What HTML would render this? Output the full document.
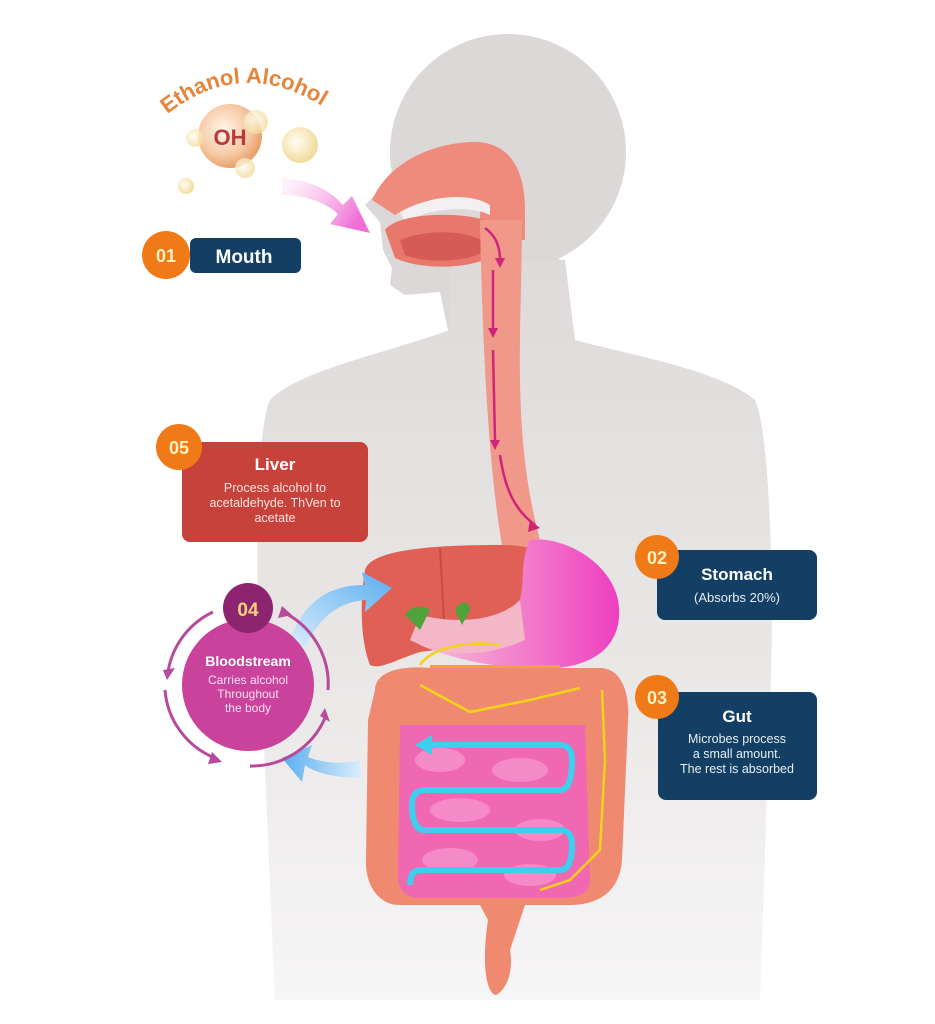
<!DOCTYPE html>
<html><head><meta charset="utf-8"><style>
html,body{margin:0;padding:0;background:#fff;}
svg{display:block;font-family:"Liberation Sans",sans-serif;}
</style></head><body>
<svg width="935" height="1024" viewBox="0 0 935 1024" xmlns="http://www.w3.org/2000/svg">
<defs>
<linearGradient id="body" x1="0" y1="0" x2="0" y2="1">
<stop offset="0" stop-color="#dedada"/><stop offset="0.6" stop-color="#ebe8e8"/><stop offset="1" stop-color="#f7f6f6"/>
</linearGradient>
<linearGradient id="pinkArr" x1="0" y1="0" x2="1" y2="0.4">
<stop offset="0" stop-color="#fbe0f3" stop-opacity="0.3"/><stop offset="1" stop-color="#ef6fd6"/>
</linearGradient>
<linearGradient id="blueArr1" x1="0" y1="1" x2="1" y2="0">
<stop offset="0" stop-color="#d8ecfb"/><stop offset="1" stop-color="#5aaef0"/>
</linearGradient>
<linearGradient id="blueArr2" x1="1" y1="0" x2="0" y2="0">
<stop offset="0" stop-color="#d8ecfb"/><stop offset="1" stop-color="#5aaef0"/>
</linearGradient>
<linearGradient id="stom" x1="0" y1="0" x2="1" y2="0">
<stop offset="0" stop-color="#f7c0d8"/><stop offset="1" stop-color="#ee3fc0"/>
</linearGradient>
<radialGradient id="bub" cx="0.4" cy="0.4" r="0.6">
<stop offset="0" stop-color="#fff6e8"/><stop offset="0.7" stop-color="#f6c6a0"/><stop offset="1" stop-color="#e9a26e"/>
</radialGradient>
<radialGradient id="bub2" cx="0.4" cy="0.4" r="0.6">
<stop offset="0" stop-color="#fffdf4"/><stop offset="1" stop-color="#f2dc9c"/>
</radialGradient>
<path id="arcT" d="M158,122 Q245,45 342,120"/>
</defs>

<!-- body silhouette -->
<circle cx="508" cy="152" r="118" fill="#dcd8d8"/>
<path d="M420,110 L395,150 L390,180 L365,205 L380,222 L383,250 L392,268 L390,285 L405,295 L440,292 L450,340 L560,345 L560,260 Z" fill="#dcd8d8"/>
<path d="M450,330 C380,355 300,370 270,400 C255,430 255,600 262,700 L275,1000 L760,1000 L770,700 C775,600 770,430 755,400 C720,370 630,355 575,340 L565,260 L450,260 Z" fill="url(#body)"/>

<!-- face/mouth organs -->
<path d="M372,200 C385,170 420,145 470,142 C510,140 525,170 525,210 L525,240 L480,240 L480,205 C460,195 420,200 395,215 Z" fill="#ee8b7c"/>
<path d="M400,212 C430,195 470,192 490,205 L490,215 C470,205 430,208 405,222 Z" fill="#f2f0f0"/>
<path d="M385,230 C395,215 450,210 485,220 L495,255 C470,270 420,270 395,258 Z" fill="#e9786c"/>
<path d="M400,240 C430,228 470,230 490,245 C480,262 430,265 405,255 Z" fill="#d65a55"/>
<!-- esophagus -->
<path d="M480,220 L522,220 C522,320 512,420 535,520 L545,560 L505,560 C488,480 482,330 480,220 Z" fill="#f0988a"/>
<g stroke="#d0247a" stroke-width="2.5" fill="none">
<path d="M485,228 C495,235 500,245 500,260"/><path d="M493,270 L493,330"/><path d="M493,350 L495,440"/><path d="M500,455 C505,490 515,510 535,525"/>
</g>
<g fill="#d0247a"><path d="M495,258 L505,258 L500,268Z"/><path d="M488,328 L498,328 L493,338Z"/><path d="M490,440 L500,440 L495,450Z"/><path d="M530,520 L540,528 L528,532Z"/></g>

<!-- liver -->
<path d="M365,570 C370,550 430,545 500,545 C545,545 560,560 555,590 C545,625 480,645 420,652 C395,660 380,670 370,665 C360,640 360,600 365,570Z" fill="#e06055"/>
<path d="M440,548 L445,640" stroke="#c94a44" stroke-width="2"/>
<!-- stomach -->
<path d="M530,540 C560,535 610,560 618,600 C625,640 600,665 555,668 C500,670 455,660 420,645 L425,620 C470,630 510,625 520,600 C525,580 520,560 530,540Z" fill="url(#stom)"/>
<path d="M420,615 C460,625 500,620 520,600 L525,640 C480,660 440,655 410,640Z" fill="#f3b7c8"/>
<path d="M405,615 C410,605 425,605 430,610 L420,630Z" fill="#4fa33a"/>
<path d="M455,610 C460,600 470,600 470,610 L462,625Z" fill="#4fa33a"/>
<path d="M430,665 L560,665 L560,685 L430,685Z" fill="#f3a23a"/>

<!-- large intestine -->
<path d="M375,690 C375,672 400,665 430,668 L600,668 C620,668 630,690 628,720 L622,860 C620,890 600,905 570,905 L525,905 L510,950 C515,980 500,995 495,995 C485,990 482,960 488,920 L480,905 L400,905 C375,905 365,880 366,860 L368,720 Z" fill="#ef8a70"/>
<!-- small intestine -->
<path d="M400,725 L585,725 L590,880 C590,895 575,898 560,898 L420,898 C405,898 398,890 398,875 Z" fill="#f067b2"/>
<g fill="#f58ac8"><ellipse cx="440" cy="760" rx="25" ry="12"/><ellipse cx="520" cy="770" rx="28" ry="12"/><ellipse cx="460" cy="810" rx="30" ry="12"/><ellipse cx="540" cy="830" rx="25" ry="11"/><ellipse cx="450" cy="860" rx="28" ry="12"/><ellipse cx="530" cy="875" rx="26" ry="11"/></g>
<!-- cyan snake -->
<path d="M425,745 L560,745 Q572,745 572,760 Q572,790 560,790 L425,790 Q412,790 412,805 Q412,830 425,830 L560,830 Q572,830 572,845 Q572,870 560,870 L420,870 Q410,870 410,885" stroke="#3dcfee" stroke-width="6" fill="none"/>
<path d="M415,745 L432,735 L432,755Z" fill="#3dcfee"/>
<!-- yellow arrows -->
<g stroke="#f5d21a" stroke-width="2.5" fill="none">
<path d="M420,685 L470,712 L530,700 L580,688"/><path d="M602,690 L605,760 L600,850 L570,880 L540,890"/>
<path d="M420,665 C430,650 460,640 500,645"/>
</g>

<!-- ethanol text & bubbles -->
<text font-size="22" font-weight="bold" fill="#e8833a"><textPath href="#arcT" startOffset="12">Ethanol Alcohol</textPath></text>
<circle cx="230" cy="136" r="32" fill="url(#bub)"/>
<text x="230" y="145" font-size="22" font-weight="bold" fill="#b83a3a" text-anchor="middle">OH</text>
<circle cx="300" cy="145" r="18" fill="url(#bub2)"/>
<circle cx="256" cy="122" r="12" fill="url(#bub2)" opacity="0.8"/>
<circle cx="245" cy="168" r="10" fill="url(#bub2)" opacity="0.8"/>
<circle cx="186" cy="186" r="8" fill="url(#bub2)"/>
<circle cx="195" cy="138" r="9" fill="url(#bub2)" opacity="0.8"/>
<!-- pink arrow -->
<path d="M282,178 C310,180 330,190 343,205 L352,196 L370,233 L330,224 L338,214 C325,202 305,195 282,195Z" fill="url(#pinkArr)"/>

<!-- 01 Mouth -->
<rect x="190" y="238" width="111" height="35" rx="6" fill="#123f63"/>
<text x="244" y="263" font-size="19" font-weight="bold" fill="#fff" text-anchor="middle">Mouth</text>
<circle cx="166" cy="255" r="24" fill="#f07a18"/>
<text x="166" y="262" font-size="18" font-weight="bold" fill="#fff3c0" text-anchor="middle">01</text>

<!-- 05 Liver -->
<rect x="182" y="442" width="186" height="100" rx="8" fill="#c8423c"/>
<text x="275" y="470" font-size="17" font-weight="bold" fill="#fff" text-anchor="middle">Liver</text>
<text x="275" y="492" font-size="12.5" fill="#fbe4e0" text-anchor="middle">Process alcohol to</text>
<text x="275" y="507" font-size="12.5" fill="#fbe4e0" text-anchor="middle">acetaldehyde. ThVen to</text>
<text x="275" y="522" font-size="12.5" fill="#fbe4e0" text-anchor="middle">acetate</text>
<circle cx="179" cy="447" r="23" fill="#f07a18"/>
<text x="179" y="454" font-size="18" font-weight="bold" fill="#fff3c0" text-anchor="middle">05</text>

<!-- blue arrows -->
<path d="M290,640 C305,600 330,585 365,585 L362,572 L392,588 L365,612 L366,600 C340,602 320,615 305,648Z" fill="url(#blueArr1)"/>
<path d="M360,760 L360,778 C330,778 310,770 305,765 L302,782 L282,758 L312,745 L308,757 C320,762 340,765 360,760Z" fill="url(#blueArr2)"/>

<!-- 04 Bloodstream -->
<circle cx="248" cy="685" r="66" fill="#c9429c"/>
<g stroke="#b84a9c" stroke-width="3" fill="none">
<path d="M213,612 A80,80 0 0 0 168,672"/><path d="M165,690 A80,80 0 0 0 215,758"/><path d="M250,766 A80,80 0 0 0 325,718"/><path d="M328,690 A80,80 0 0 0 285,613"/>
</g>
<g fill="#b84a9c"><path d="M163,670 L175,668 L167,680Z"/><path d="M212,752 L222,762 L208,764Z"/><path d="M320,716 L330,722 L325,708Z"/><path d="M282,606 L292,615 L278,618Z"/></g>
<circle cx="248" cy="608" r="25" fill="#8c2470"/>
<text x="248" y="616" font-size="19" font-weight="bold" fill="#f6d27a" text-anchor="middle">04</text>
<text x="248" y="666" font-size="14" font-weight="bold" fill="#fff" text-anchor="middle">Bloodstream</text>
<text x="248" y="684" font-size="12" fill="#fbe0f0" text-anchor="middle">Carries alcohol</text>
<text x="248" y="698" font-size="12" fill="#fbe0f0" text-anchor="middle">Throughout</text>
<text x="248" y="712" font-size="12" fill="#fbe0f0" text-anchor="middle">the body</text>

<!-- 02 Stomach -->
<rect x="657" y="550" width="160" height="70" rx="8" fill="#123f63"/>
<text x="737" y="580" font-size="17" font-weight="bold" fill="#fff" text-anchor="middle">Stomach</text>
<text x="737" y="602" font-size="13" fill="#e8eef4" text-anchor="middle">(Absorbs 20%)</text>
<circle cx="657" cy="557" r="22" fill="#f07a18"/>
<text x="657" y="564" font-size="18" font-weight="bold" fill="#fff3c0" text-anchor="middle">02</text>

<!-- 03 Gut -->
<rect x="658" y="692" width="159" height="108" rx="8" fill="#123f63"/>
<text x="737" y="722" font-size="17" font-weight="bold" fill="#fff" text-anchor="middle">Gut</text>
<text x="737" y="743" font-size="12.5" fill="#e8eef4" text-anchor="middle">Microbes process</text>
<text x="737" y="758" font-size="12.5" fill="#e8eef4" text-anchor="middle">a small amount.</text>
<text x="737" y="773" font-size="12.5" fill="#e8eef4" text-anchor="middle">The rest is absorbed</text>
<circle cx="657" cy="697" r="22" fill="#f07a18"/>
<text x="657" y="704" font-size="18" font-weight="bold" fill="#fff3c0" text-anchor="middle">03</text>
</svg>
</body></html>
